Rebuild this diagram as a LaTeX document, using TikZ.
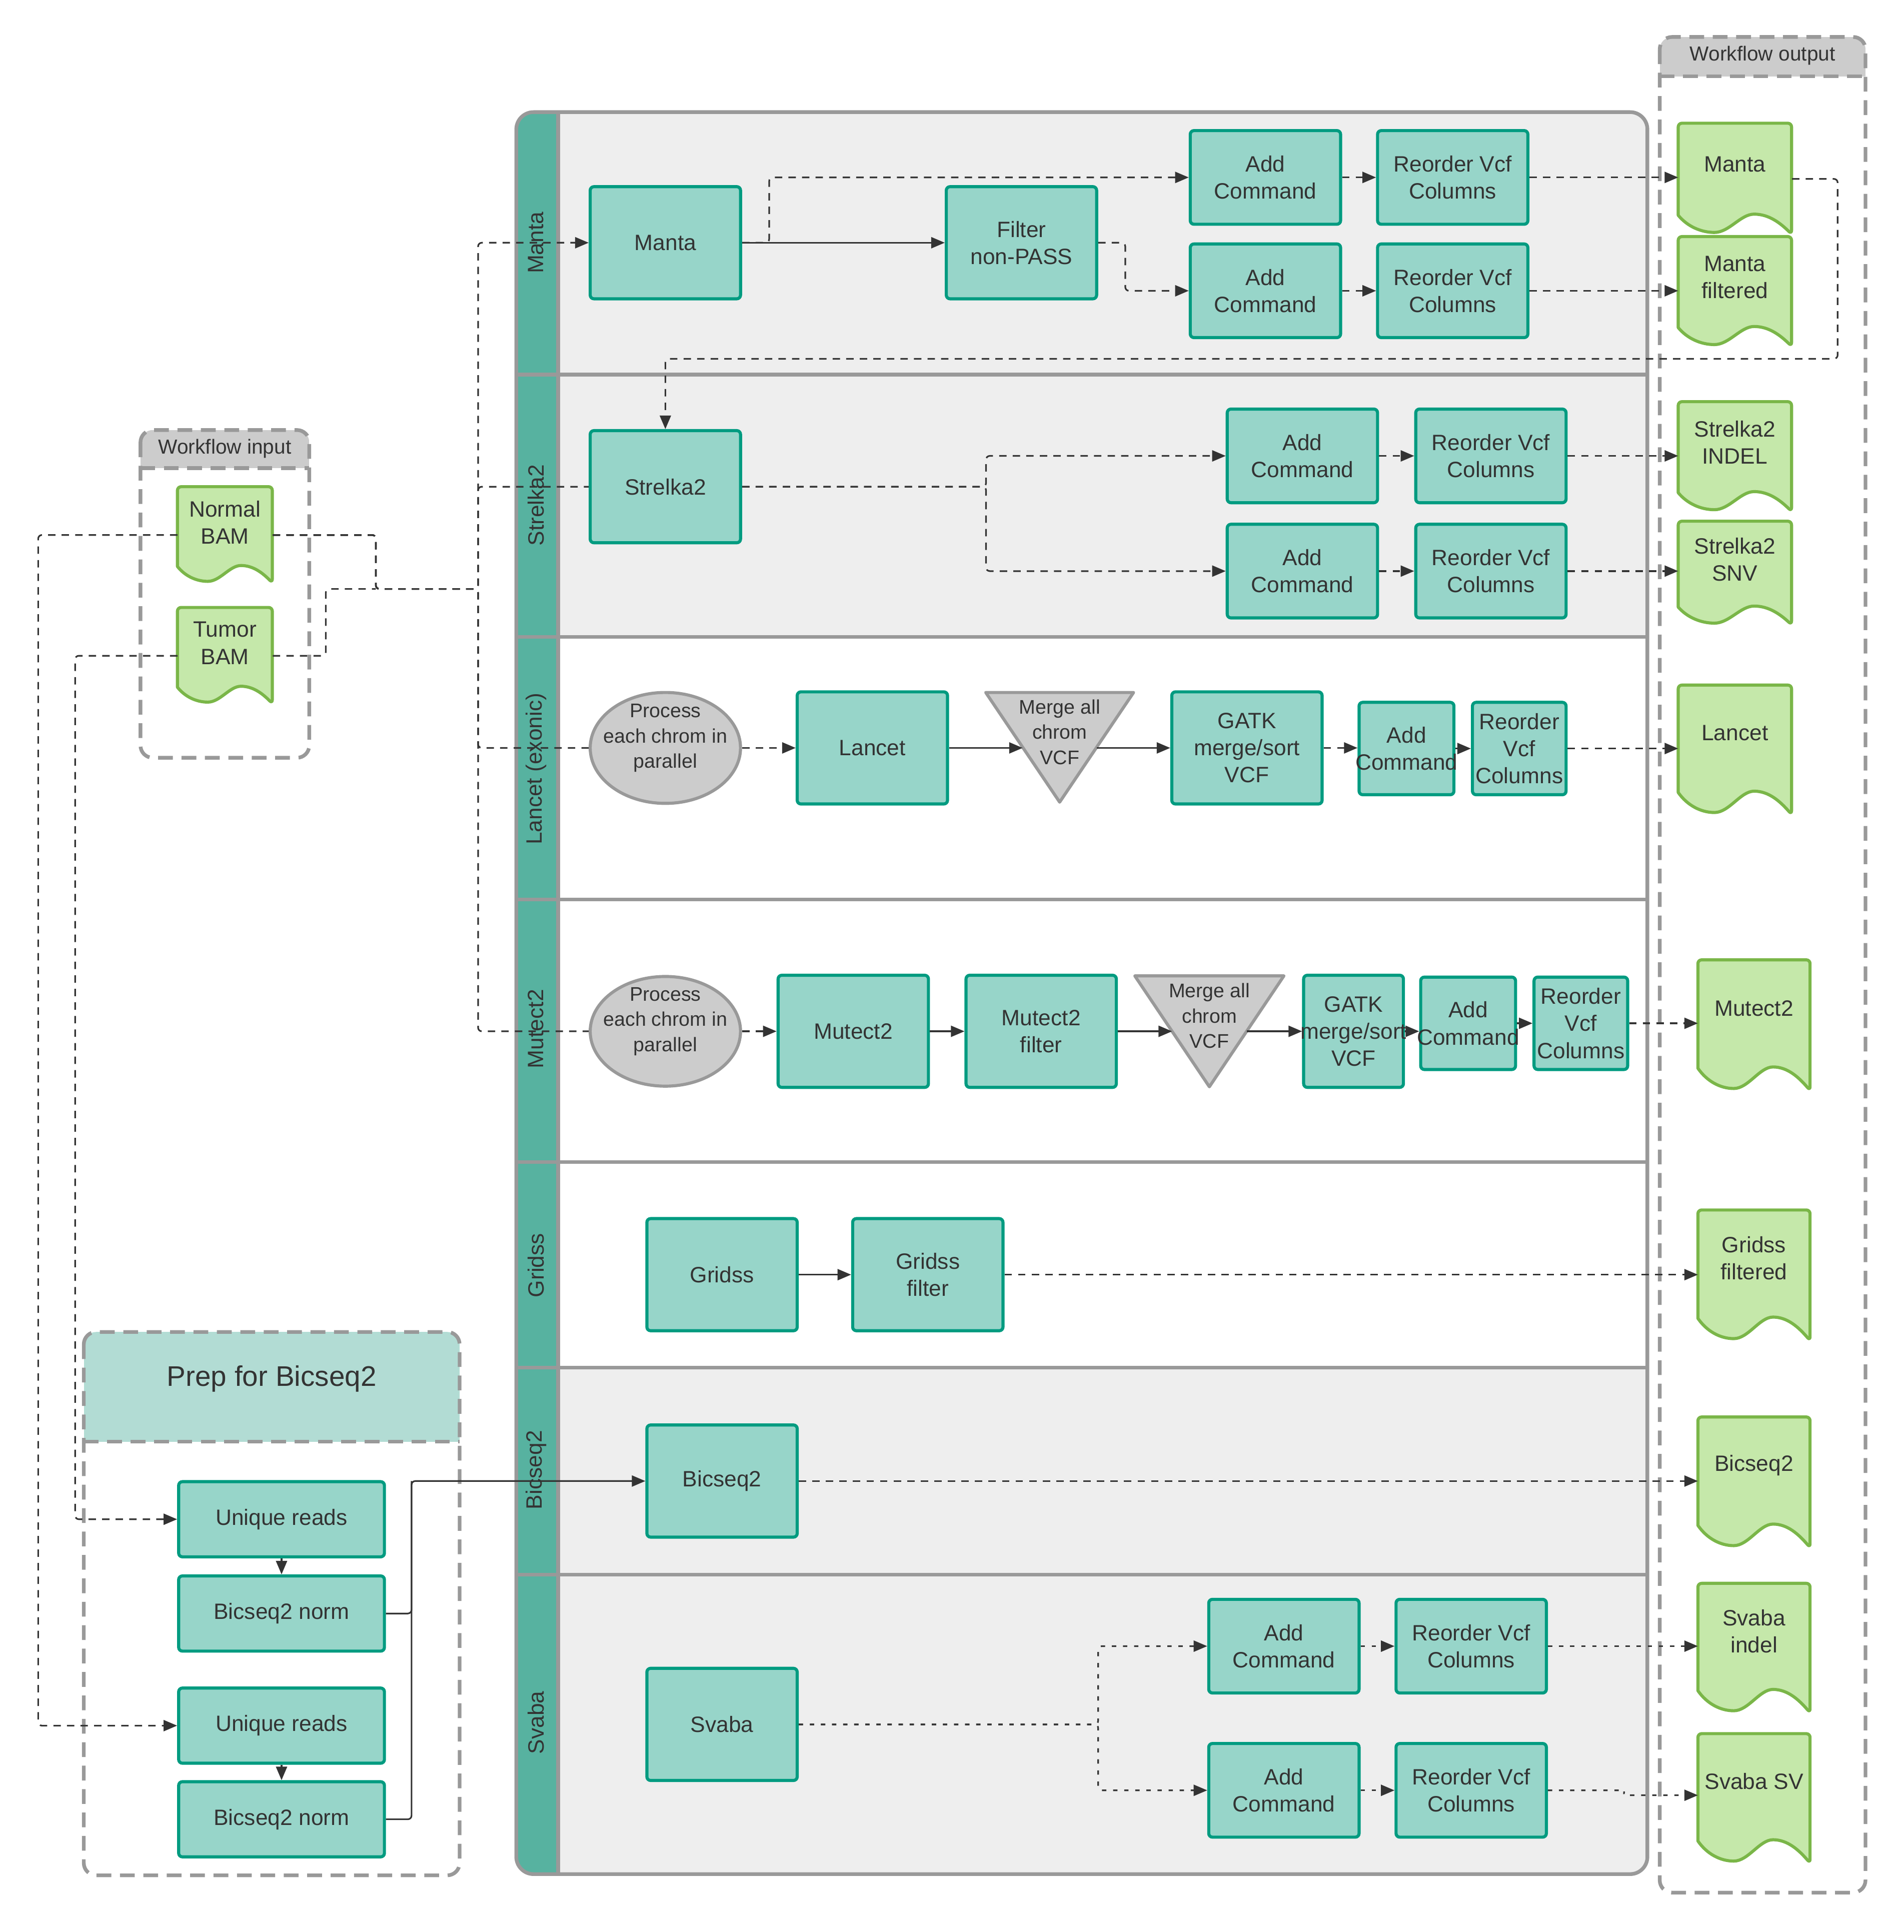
\documentclass[tikz,border=0pt]{standalone}
\usepackage{fontspec}
\setmainfont{Liberation Sans}
\usetikzlibrary{arrows.meta,shapes.geometric,calc}

\definecolor{ink}{HTML}{333333}
\definecolor{procfill}{HTML}{97D5C9}
\definecolor{procline}{HTML}{009B80}
\definecolor{docfill}{HTML}{C5E8AA}
\definecolor{docline}{HTML}{7AB648}
\definecolor{grayfill}{HTML}{CCCCCC}
\definecolor{grayline}{HTML}{999999}
\definecolor{lanebg}{HTML}{EEEEEE}
\definecolor{strip}{HTML}{57B2A0}
\definecolor{prephead}{HTML}{B2DCD4}

\tikzset{
  proc/.style={draw=procline, fill=procfill, line width=2.5pt, rounded corners=3pt,
    align=center, text=ink, inner sep=0pt, font=\fontsize{18pt}{22pt}\selectfont},
  grayshape/.style={draw=grayline, fill=grayfill, line width=2.5pt, line join=round},
  smalltext/.style={align=center, text=ink, inner sep=0pt, font=\fontsize{16pt}{20.5pt}\selectfont},
  doctext/.style={align=center, text=ink, inner sep=0pt, font=\fontsize{18pt}{22pt}\selectfont},
  docshape/.style={draw=docline, fill=docfill, line width=2.5pt, line join=round},
  lanelabel/.style={rotate=90, text=ink, inner sep=0pt, font=\fontsize{18pt}{22pt}\selectfont},
  headtext/.style={text=ink, inner sep=0pt, font=\fontsize{16.5pt}{20pt}\selectfont},
  groupbox/.style={draw=grayline, line width=3pt, dash pattern=on 12pt off 7pt},
  link/.style={draw=ink, line width=1.3pt, rounded corners=3pt},
  dashlink/.style={link, dash pattern=on 6pt off 5pt},
  dotlink/.style={link, dash pattern=on 3.5pt off 5.5pt},
  tip/.style={-{Triangle[length=11pt,width=9pt]}}
}

% output / input file shape: name, left, top, width, height, text
\newcommand\outdoc[6]{%
  \filldraw[docshape, rounded corners=3pt]
    (#2,{#3+0.83*#5}) -- (#2,#3) -- ({#2+#4},#3) -- ({#2+#4},{#3+#5})
    [sharp corners]
    .. controls ({#2+0.9*#4},{#3+0.9*#5}) and ({#2+0.8*#4},{#3+0.82*#5}) .. ({#2+0.67*#4},{#3+0.82*#5})
    .. controls ({#2+0.55*#4},{#3+0.82*#5}) and ({#2+0.45*#4},{#3+0.985*#5}) .. ({#2+0.32*#4},{#3+0.985*#5})
    .. controls ({#2+0.2*#4},{#3+0.985*#5}) and ({#2+0.08*#4},{#3+0.93*#5}) .. (#2,{#3+0.83*#5}) -- cycle;
  \node[inner sep=0pt, minimum width=#4, minimum height=#5, anchor=north west] (#1) at (#2,#3) {};
  \node[doctext] (#1-t) at ({#2+#4/2},{#3+0.37*#5}) {#6};
}

% merge triangle: name, left, top, width, height
\newcommand\mergetri[5]{%
  \filldraw[grayshape] (#2,#3) -- ({#2+#4},#3) -- ({#2+#4/2},{#3+#5}) -- cycle;
  \coordinate (#1-L) at ({#2+#4/4},{#3+#5/2});
  \coordinate (#1-R) at ({#2+3*#4/4},{#3+#5/2});
  \node[smalltext] (#1) at ({#2+#4/2},{#3+0.36*#5}) {Merge all\\chrom\\VCF};
}

\begin{document}
\begin{tikzpicture}[x=1pt, y=-1pt]
\useasboundingbox (0,0) rectangle (1545,1568);

% ---------- swimlane container ----------
\begin{scope}
  \clip[rounded corners=14pt] (419,91) rectangle (1337,1521);
  \fill[lanebg] (419,91) rectangle (1337,517);
  \fill[white] (419,517) rectangle (1337,1110);
  \fill[lanebg] (419,1110) rectangle (1337,1521);
  \fill[strip] (419,91) rectangle (453,1521);
\end{scope}
\foreach \yy in {304,517,730,943,1110,1278}
  \draw[grayline, line width=3pt] (419,\yy) -- (1337,\yy);
\draw[grayline, line width=3pt] (453,91) -- (453,1521);
\draw[grayline, line width=3pt, rounded corners=14pt] (419,91) rectangle (1337,1521);

\node[lanelabel] (lbl-manta) at (435,197) {Manta};
\node[lanelabel] (lbl-strelka) at (435,410) {Strelka2};
\node[lanelabel] (lbl-lancet) at (435,624) {Lancet (exonic)};
\node[lanelabel] (lbl-mutect) at (435,835) {Mutect2};
\node[lanelabel] (lbl-gridss) at (435,1027) {Gridss};
\node[lanelabel] (lbl-bicseq) at (435,1193) {Bicseq2};
\node[lanelabel] (lbl-svaba) at (435,1398) {Svaba};

% ---------- workflow input ----------
\begin{scope}
  \clip[rounded corners=10pt] (114,349) rectangle (251,615);
  \fill[grayfill] (114,349) rectangle (251,380);
\end{scope}
\draw[groupbox, rounded corners=10pt] (114,349) rectangle (251,615);
\draw[groupbox] (114,380) -- (251,380);
\node[headtext] (wfin) at (182.5,364) {Workflow input};

% ---------- workflow output ----------
\begin{scope}
  \clip[rounded corners=10pt] (1347,30) rectangle (1514,1536);
  \fill[grayfill] (1347,30) rectangle (1514,62);
\end{scope}
\draw[groupbox, rounded corners=10pt] (1347,30) rectangle (1514,1536);
\draw[groupbox] (1347,62) -- (1514,62);
\node[headtext] (wfout) at (1430.5,45) {Workflow output};

% ---------- prep for bicseq2 ----------
\begin{scope}
  \clip[rounded corners=10pt] (68,1081) rectangle (373,1522);
  \fill[prephead] (68,1081) rectangle (373,1170);
\end{scope}
\draw[groupbox, rounded corners=10pt] (68,1081) rectangle (373,1522);
\draw[groupbox] (68,1170) -- (373,1170);
\node[headtext, font=\fontsize{23pt}{27pt}\selectfont] (prep) at (220.5,1119) {Prep for Bicseq2};

% ---------- files ----------
\outdoc{inormal}{144}{395}{77}{78}{Normal\\BAM}
\outdoc{itumor}{144}{493}{77}{78}{Tumor\\BAM}

\outdoc{omanta}{1362}{100}{92}{90}{Manta}
\outdoc{omantaf}{1362}{192}{92}{89}{Manta\\filtered}
\outdoc{osindel}{1362}{326}{92}{89}{Strelka2\\INDEL}
\outdoc{ossnv}{1362}{423}{92}{84}{Strelka2\\SNV}
\outdoc{olancet}{1362}{556}{92}{105}{Lancet}
\outdoc{omutect}{1378}{779}{91}{106}{Mutect2}
\outdoc{ogridss}{1378}{982}{91}{106}{Gridss\\filtered}
\outdoc{obicseq}{1378}{1150}{91}{106}{Bicseq2}
\outdoc{osvindel}{1378}{1285}{91}{105}{Svaba\\indel}
\outdoc{osvsv}{1378}{1407}{91}{105}{Svaba SV}

% ---------- Manta lane ----------
\node[proc, minimum width=122, minimum height=91] (manta) at (540,197) {Manta};
\node[proc, minimum width=122, minimum height=91] (filt) at (829,197) {Filter\\non-PASS};
\node[proc, minimum width=122, minimum height=76] (madd1) at (1027,144) {Add\\Command};
\node[proc, minimum width=122, minimum height=76] (mro1) at (1179,144) {Reorder Vcf\\Columns};
\node[proc, minimum width=122, minimum height=76] (madd2) at (1027,236) {Add\\Command};
\node[proc, minimum width=122, minimum height=76] (mro2) at (1179,236) {Reorder Vcf\\Columns};

% ---------- Strelka2 lane ----------
\node[proc, minimum width=122, minimum height=91] (strelka) at (540,395) {Strelka2};
\node[proc, minimum width=122, minimum height=76] (sadd1) at (1057,370) {Add\\Command};
\node[proc, minimum width=122, minimum height=76] (sro1) at (1210,370) {Reorder Vcf\\Columns};
\node[proc, minimum width=122, minimum height=76] (sadd2) at (1057,463.5) {Add\\Command};
\node[proc, minimum width=122, minimum height=76] (sro2) at (1210,463.5) {Reorder Vcf\\Columns};

% ---------- Lancet lane ----------
\node[ellipse, grayshape, minimum width=122, minimum height=90, inner sep=0pt] (lell) at (540,607) {};
\node[smalltext] (lell-t) at (540,599) {Process\\each chrom in\\parallel};
\node[proc, minimum width=122, minimum height=91] (lancet) at (708,607) {Lancet};
\mergetri{lmerge}{800}{562}{120}{89}
\node[proc, minimum width=122, minimum height=91] (lgatk) at (1012,607) {GATK\\merge/sort\\VCF};
\node[proc, minimum width=77, minimum height=75] (ladd) at (1141.5,607.5) {Add\\\makebox[0pt]{Command}};
\node[proc, minimum width=76, minimum height=75] (lro) at (1233,607.5) {Reorder\\Vcf\\Columns};

% ---------- Mutect2 lane ----------
\node[ellipse, grayshape, minimum width=122, minimum height=89, inner sep=0pt] (mell) at (540,837) {};
\node[smalltext] (mell-t) at (540,829) {Process\\each chrom in\\parallel};
\node[proc, minimum width=122, minimum height=91] (mutect) at (692.5,837) {Mutect2};
\node[proc, minimum width=122, minimum height=91] (mfilt) at (845,837) {Mutect2\\filter};
\mergetri{mmerge}{921}{792}{121}{90}
\node[proc, minimum width=81, minimum height=91] (mgatk) at (1098.5,837) {GATK\\\makebox[0pt]{merge/sort}\\VCF};
\node[proc, minimum width=77, minimum height=75] (mtadd) at (1191.5,830.5) {Add\\\makebox[0pt]{Command}};
\node[proc, minimum width=76, minimum height=75] (mtro) at (1283,830.5) {Reorder\\Vcf\\Columns};

% ---------- Gridss lane ----------
\node[proc, minimum width=122, minimum height=91] (gridss) at (586,1034.5) {Gridss};
\node[proc, minimum width=122, minimum height=91] (gfilt) at (753,1034.5) {Gridss\\filter};

% ---------- Bicseq2 lane ----------
\node[proc, minimum width=122, minimum height=91] (bicseq) at (586,1202) {Bicseq2};

% ---------- Svaba lane ----------
\node[proc, minimum width=122, minimum height=91] (svaba) at (586,1399.5) {Svaba};
\node[proc, minimum width=122, minimum height=76] (vadd1) at (1042,1336) {Add\\Command};
\node[proc, minimum width=122, minimum height=76] (vro1) at (1194,1336) {Reorder Vcf\\Columns};
\node[proc, minimum width=122, minimum height=76] (vadd2) at (1042,1453) {Add\\Command};
\node[proc, minimum width=122, minimum height=76] (vro2) at (1194,1453) {Reorder Vcf\\Columns};

% ---------- Prep steps ----------
\node[proc, minimum width=167, minimum height=61] (ur1) at (228.5,1233) {Unique reads};
\node[proc, minimum width=167, minimum height=61] (bn1) at (228.5,1309.5) {Bicseq2 norm};
\node[proc, minimum width=167, minimum height=61] (ur2) at (228.5,1400.5) {Unique reads};
\node[proc, minimum width=167, minimum height=61] (bn2) at (228.5,1476.5) {Bicseq2 norm};

% ---------- connectors: BAM inputs ----------
\coordinate (jn) at (305,478);
\coordinate (busx) at (388,0);
\draw[dashlink, tip] (inormal.east) -| (jn) -- (jn -| busx) |- (manta.west);
\draw[dashlink] (inormal.east) -| (jn) -- (jn -| busx) |- (strelka.west);
\draw[dashlink] (inormal.east) -| (jn) -- (jn -| busx) |- (lell.west);
\draw[dashlink] (inormal.east) -| (jn) -- (jn -| busx) |- (mell.west);
\draw[dashlink] (itumor.east) -- ++(43,0) |- (jn);
\draw[dashlink, tip] (inormal.west) -- ++(-113,0) |- (ur2.west);
\draw[dashlink, tip] (itumor.west) -- ++(-83,0) |- (ur1.west);

% Manta
\draw[link, tip] (manta.east) -- (filt.west);
\draw[dashlink, tip] (manta.east) -- ++(22,0) |- (madd1.west);
\draw[dashlink, tip] (filt.east) -- ++(22,0) |- (madd2.west);
\draw[dashlink, tip] (madd1.east) -- (mro1.west);
\draw[dashlink, tip] (madd2.east) -- (mro2.west);
\draw[dashlink, tip] (mro1.east) -- (mro1.east -| omanta.west);
\draw[dashlink, tip] (mro2.east) -- (mro2.east -| omantaf.west);
\draw[dashlink, tip] (omanta.east) -- ++(37,0) -- ++(0,146) -| (strelka.north);

% Strelka2
\draw[dashlink, tip] (strelka.east) -- ++(198,0) |- (sadd1.west);
\draw[dashlink, tip] (strelka.east) -- ++(198,0) |- (sadd2.west);
\draw[dashlink, tip] (sadd1.east) -- (sro1.west);
\draw[dashlink, tip] (sadd2.east) -- (sro2.west);
\draw[dashlink, tip] (sro1.east) -- (sro1.east -| osindel.west);
\draw[dashlink, tip] (sro2.east) -- (sro2.east -| ossnv.west);

% Lancet
\draw[dashlink, tip] (lell.east) -- (lancet.west);
\draw[link, tip] (lancet.east) -- (lancet.east -| lmerge-L);
\draw[link, tip] (lgatk.west -| lmerge-R) -- (lgatk.west);
\draw[dashlink, tip] (lgatk.east) -- (lgatk.east -| ladd.west);
\draw[link, tip] (ladd.east) -- (lro.west);
\draw[dashlink, tip] (lro.east) -- (lro.east -| olancet.west);

% Mutect2
\draw[dashlink, tip] (mell.east) -- (mutect.west);
\draw[link, tip] (mutect.east) -- (mfilt.west);
\draw[link, tip] (mfilt.east) -- (mfilt.east -| mmerge-L);
\draw[link, tip] (mgatk.west -| mmerge-R) -- (mgatk.west);
\draw[dashlink, tip] (mgatk.east) -- (mgatk.east -| mtadd.west);
\draw[link, tip] (mtadd.east) -- (mtro.west);
\draw[dashlink, tip] (mtro.east) -- (mtro.east -| omutect.west);

% Gridss
\draw[link, tip] (gridss.east) -- (gfilt.west);
\draw[dashlink, tip] (gfilt.east) -- (gfilt.east -| ogridss.west);

% Bicseq2
\draw[link, tip] (ur1.south) -- (bn1.north);
\draw[link, tip] (ur2.south) -- (bn2.north);
\coordinate (bj) at (334,1202);
\draw[link, tip] (bn1.east) -| (bj) -- (bicseq.west);
\draw[link] (bn2.east) -| (bj);
\draw[dashlink, tip] (bicseq.east) -- (bicseq.east -| obicseq.west);

% Svaba
\draw[dotlink, tip] (svaba.east) -- ++(243,0) |- (vadd1.west);
\draw[dotlink, tip] (svaba.east) -- ++(243,0) |- (vadd2.west);
\draw[dotlink, tip] (vadd1.east) -- (vro1.west);
\draw[dotlink, tip] (vadd2.east) -- (vro2.west);
\draw[dotlink, tip] (vro1.east) -- (vro1.east -| osvindel.west);
\coordinate (svj) at (1318,1457);
\draw[dotlink, tip] (vro2.east) -- (vro2.east -| svj) -- (svj) -- (svj -| osvsv.west);

\end{tikzpicture}
\end{document}
